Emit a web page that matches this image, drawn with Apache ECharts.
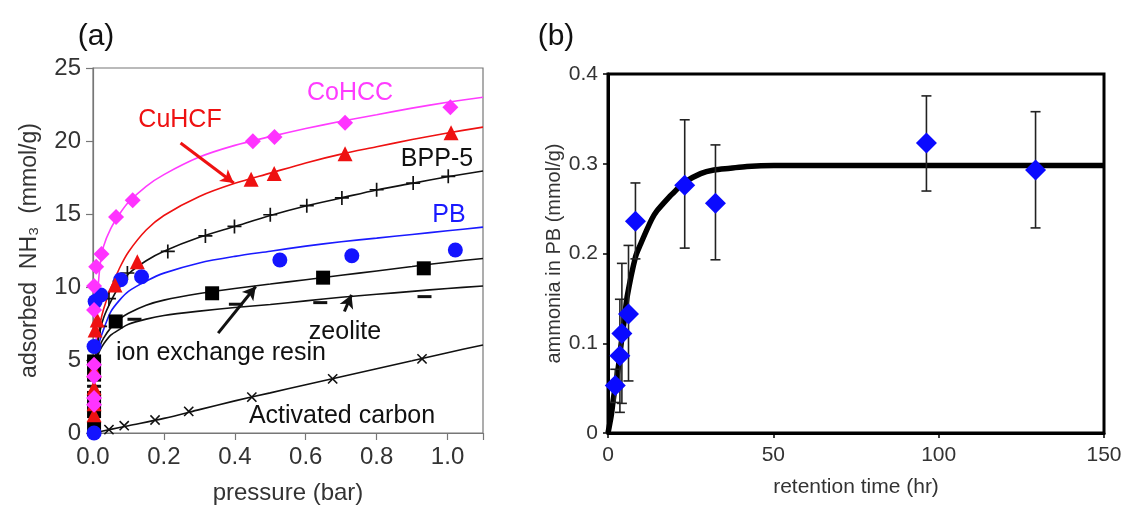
<!DOCTYPE html>
<html><head><meta charset="utf-8">
<script src="https://cdn.jsdelivr.net/npm/echarts@6/dist/echarts.min.js"></script>
<style>html,body{margin:0;padding:0;background:#fff}#c{width:1130px;height:514px}</style>
</head><body><div id="c"></div>
<script>
// ===== Panel (a): NH3 adsorption isotherms =====
const cohccP = [0.003,0.003,0.003,0.003,0.003,0.003,0.009,0.024,0.065,0.112,0.451,0.512,0.711,1.008];
const cohccQ = [1.94,2.4,3.87,4.67,8.43,10.07,11.39,12.26,14.8,15.95,19.98,20.27,21.25,22.32];
const cuhcfP = [0.003,0.003,0.003,0.003,0.006,0.012,0.062,0.125,0.446,0.511,0.711,1.01];
const cuhcfQ = [1.25,2.0,3.1,4.3,7.06,7.74,10.14,11.73,17.38,17.77,19.13,20.57];
const bppP = [0.02,0.045,0.075,0.097,0.211,0.317,0.399,0.5,0.603,0.702,0.8,0.903,1.002];
const bppQ = [7.3,9.2,10.4,10.96,12.44,13.5,14.15,14.95,15.57,16.1,16.66,17.12,17.58];
const pbP = [0.003,0.003,0.006,0.022,0.078,0.137,0.527,0.73,1.022];
const pbQ = [0.0,5.92,9.0,9.45,10.5,10.7,11.85,12.14,12.53];
const resinP = [0.003,0.003,0.003,0.003,0.003,0.064,0.336,0.649,0.933];
const resinQ = [0.3,1.5,2.4,4.0,4.9,7.64,9.57,10.64,11.28];
const zeoP = [0.003,0.003,0.117,0.403,0.641,0.935];
const zeoQ = [3.2,5.0,7.79,8.82,8.93,9.34];
const carbonP = [0.045,0.088,0.175,0.27,0.448,0.676,0.928];
const carbonQ = [0.23,0.5,0.89,1.48,2.46,3.71,5.08];

// fitted curves
const fitP = [0.008,0.012,0.02,0.03,0.05,0.075,0.1,0.15,0.2,0.3,0.4,0.5,0.6,0.7,0.8,0.9,1.0,1.1];
const fitCoHCC = [5.5,9.0,11.5,12.8,14.0,15.0,15.8,16.9,17.7,18.9,19.7,20.3,20.85,21.35,21.8,22.25,22.65,23.0];
const fitCuHCF = [5.3,6.2,7.5,8.5,9.9,11.3,12.4,13.9,14.9,16.2,17.1,17.8,18.5,19.1,19.6,20.1,20.55,20.95];
const fitBPP   = [5.2,6.0,7.0,7.9,9.0,10.1,10.9,11.8,12.45,13.4,14.15,14.9,15.55,16.1,16.65,17.1,17.55,17.95];
const fitPB    = [5.0,5.6,6.4,7.1,8.3,9.1,9.7,10.4,10.95,11.65,12.1,12.45,12.8,13.1,13.35,13.6,13.85,14.1];
const fitResin = [4.9,5.4,6.0,6.5,7.2,7.8,8.2,8.75,9.1,9.55,9.9,10.2,10.5,10.8,11.1,11.4,11.7,11.95];
const fitZeo   = [4.8,5.2,5.7,6.1,6.7,7.1,7.45,7.8,8.05,8.35,8.6,8.8,9.05,9.3,9.5,9.7,9.9,10.07];
const fitCarbonP = [0,0.05,0.1,0.2,0.3,0.4,0.5,0.6,0.7,0.8,0.9,1.0,1.1];
const fitCarbonQ = [0,0.25,0.5,1.0,1.6,2.2,2.75,3.3,3.85,4.4,4.95,5.5,6.03];

// arrows (data coordinates: [from x, from y, to x, to y])
const arrowCuHCF = [0.247,19.86,0.397,17.12];
const arrowResin = [0.353,6.84,0.459,10.03];
const arrowZeo = [0.709,8.32,0.729,9.46];

// ===== Panel (b): ammonia uptake vs retention time =====
const timeHr = [2.2,3.6,4.2,6.2,8.3,23.2,32.5,96.3,129.3];
const ammonia = [0.053,0.086,0.111,0.1326,0.236,0.276,0.256,0.323,0.293];
const errLow = [0.034,0.023,0.033,0.058,0.194,0.206,0.193,0.2696,0.2285];
const errHigh = [0.071,0.149,0.189,0.209,0.2786,0.349,0.321,0.3756,0.358];
const fitT = [0,1,1.7,3,4,5,5.8,8.3,9.8,13.2,14.9,18.75,19.9,23,28,32,37,42,50.2,75,100,125,150];
const fitA = [0,0.02,0.04,0.07,0.1,0.128,0.152,0.196,0.21,0.238,0.248,0.264,0.268,0.279,0.289,0.293,0.295,0.297,0.298,0.298,0.298,0.298,0.298];

const zip = (a,b) => a.map((v,i)=>[v,b[i]]);
const FONT = 'Liberation Sans, Arial, sans-serif';

const plusPath = 'path://M4.4,0H5.6V4.4H10V5.6H5.6V10H4.4V5.6H0V4.4H4.4Z';

function lineSeries(y, color){
  return {type:'line', xAxisIndex:0, yAxisIndex:0, data: zip(fitP, y), showSymbol:false, symbol:'none',
    smooth:0.3, lineStyle:{color:color, width:1.6}, z:2, silent:true};
}
function arrowSeries(a, color){
  return {type:'line', xAxisIndex:0, yAxisIndex:0, data:[], silent:true,
    markLine:{silent:true, symbol:['none','arrow'], symbolSize:[11,13], label:{show:false},
      lineStyle:{color:color, width:3, type:'solid', opacity:1}, emphasis:{disabled:true},
      data:[[{coord:[a[0],a[1]]},{coord:[a[2],a[3]]}]]}};
}
function sc(p, q, symbol, size, color, z, extra){
  return Object.assign({type:'scatter', xAxisIndex:0, yAxisIndex:0, data:zip(p,q), symbol:symbol, symbolSize:size,
    itemStyle:{color:color, opacity:1}, z:z, silent:true}, extra||{});
}

const chart = echarts.init(document.getElementById('c'), null, {renderer:'canvas'});
chart.setOption({
  animation:false,
  backgroundColor:'#fff',
  textStyle:{fontFamily:FONT},
  grid:[
    {left:93, right:647, top:68, bottom:81, show:true, borderColor:'#777', borderWidth:1.2, backgroundColor:'transparent'},
    {left:608, right:26, top:74, bottom:81, show:true, borderColor:'#000', borderWidth:3, backgroundColor:'transparent'}
  ],
  xAxis:[
    {gridIndex:0, type:'value', min:0, max:1.1, interval:0.2,
      name:'pressure (bar)', nameLocation:'middle', nameGap:48,
      nameTextStyle:{fontSize:24, color:'#333', fontFamily:FONT},
      axisLine:{lineStyle:{color:'#777', width:1.2}},
      axisTick:{show:true, length:7, inside:false, lineStyle:{color:'#777', width:1.2}},
      axisLabel:{fontSize:24, color:'#333', margin:12, fontFamily:FONT,
        formatter:v=> (v>1.05?'':v.toFixed(1))},
      splitLine:{show:false}},
    {gridIndex:1, type:'value', min:0, max:150, interval:50,
      name:'retention time (hr)', nameLocation:'middle', nameGap:44,
      nameTextStyle:{fontSize:21, color:'#333', fontFamily:FONT},
      axisLine:{lineStyle:{color:'#000', width:3}},
      axisTick:{show:true, length:5, lineStyle:{color:'#000', width:1.5}},
      axisLabel:{fontSize:21, color:'#333', margin:12, fontFamily:FONT},
      splitLine:{show:false}}
  ],
  yAxis:[
    {gridIndex:0, type:'value', min:0, max:25, interval:5,
      name:'adsorbed  NH\u2083  (mmol/g)', nameLocation:'middle', nameGap:52, nameRotate:90,
      nameTextStyle:{fontSize:23, color:'#333', fontFamily:FONT},
      axisLine:{lineStyle:{color:'#777', width:1.2}},
      axisTick:{show:true, length:7, lineStyle:{color:'#777', width:1.2}},
      axisLabel:{fontSize:24, color:'#333', margin:12, fontFamily:FONT},
      splitLine:{show:false}},
    {gridIndex:1, type:'value', min:0, max:0.4, interval:0.1,
      name:'ammonia in PB (mmol/g)', nameLocation:'middle', nameGap:44, nameRotate:90,
      nameTextStyle:{fontSize:20, color:'#333', fontFamily:FONT},
      axisLine:{lineStyle:{color:'#000', width:3}},
      axisTick:{show:true, length:5, lineStyle:{color:'#000', width:1.5}},
      axisLabel:{fontSize:21, color:'#333', margin:10, fontFamily:FONT,
        formatter:v=> (v===0?'0':v.toFixed(1))},
      splitLine:{show:false}}
  ],
  graphic:[
    {type:'text', x:96, y:37, style:{text:'(a)', font:'30px '+FONT, fill:'#111', textAlign:'center', textVerticalAlign:'middle', verticalAlign:'middle'}},
    {type:'text', x:556, y:37, style:{text:'(b)', font:'30px '+FONT, fill:'#111', textAlign:'center', textVerticalAlign:'middle', verticalAlign:'middle'}},
    {type:'text', x:350, y:93, style:{text:'CoHCC', font:'25px '+FONT, fill:'#ff3cff', textAlign:'center', textVerticalAlign:'middle', verticalAlign:'middle'}},
    {type:'text', x:180, y:120, style:{text:'CuHCF', font:'25px '+FONT, fill:'#ee1111', textAlign:'center', textVerticalAlign:'middle', verticalAlign:'middle'}},
    {type:'text', x:437, y:159, style:{text:'BPP-5', font:'25px '+FONT, fill:'#111', textAlign:'center', textVerticalAlign:'middle', verticalAlign:'middle'}},
    {type:'text', x:449, y:215, style:{text:'PB', font:'25px '+FONT, fill:'#1a1aff', textAlign:'center', textVerticalAlign:'middle', verticalAlign:'middle'}},
    {type:'text', x:345, y:332, style:{text:'zeolite', font:'25px '+FONT, fill:'#111', textAlign:'center', textVerticalAlign:'middle', verticalAlign:'middle'}},
    {type:'text', x:221, y:353, style:{text:'ion exchange resin', font:'25px '+FONT, fill:'#111', textAlign:'center', textVerticalAlign:'middle', verticalAlign:'middle'}},
    {type:'text', x:342, y:416, style:{text:'Activated carbon', font:'25px '+FONT, fill:'#111', textAlign:'center', textVerticalAlign:'middle', verticalAlign:'middle'}}
  ],
  series:[
    lineSeries(fitCoHCC,'#ff3cff'),
    lineSeries(fitCuHCF,'#ee1111'),
    lineSeries(fitBPP,'#111'),
    lineSeries(fitPB,'#1a1aff'),
    lineSeries(fitResin,'#111'),
    lineSeries(fitZeo,'#111'),
    {type:'line', xAxisIndex:0, yAxisIndex:0, data:zip(fitCarbonP,fitCarbonQ), symbol:'none', smooth:0.3,
      lineStyle:{color:'#111', width:1.6}, z:2, silent:true},
    sc(carbonP, carbonQ, plusPath, 13, '#111', 3, {symbolRotate:45}),
    sc(zeoP, zeoQ, 'rect', [14,3], '#111', 3),
    sc(resinP, resinQ, 'rect', 14, '#000', 3),
    sc(bppP, bppQ, plusPath, 14, '#111', 3),
    sc(pbP, pbQ, 'circle', 15, '#1414ff', 3),
    sc(cuhcfP, cuhcfQ, 'triangle', 15, '#ee1111', 4),
    sc(cohccP, cohccQ, 'diamond', 16, '#ff33ff', 4),
    arrowSeries(arrowCuHCF,'#ee1111'),
    arrowSeries(arrowResin,'#111'),
    arrowSeries(arrowZeo,'#111'),
    // panel b
    {type:'line', xAxisIndex:1, yAxisIndex:1, data:zip(fitT,fitA), symbol:'none', smooth:0.3,
      lineStyle:{color:'#000', width:5.5}, z:2, silent:true},
    {type:'custom', xAxisIndex:1, yAxisIndex:1, z:3, silent:true,
      data: timeHr.map((t,i)=>[t, errLow[i], errHigh[i]]),
      renderItem:function(params, api){
        const x = api.value(0), lo = api.value(1), hi = api.value(2);
        const a = api.coord([x, hi]), b = api.coord([x, lo]);
        const w = 5;
        const st = {stroke:'#222', lineWidth:1.6};
        return {type:'group', children:[
          {type:'line', shape:{x1:a[0],y1:a[1],x2:b[0],y2:b[1]}, style:st},
          {type:'line', shape:{x1:a[0]-w,y1:a[1],x2:a[0]+w,y2:a[1]}, style:st},
          {type:'line', shape:{x1:b[0]-w,y1:b[1],x2:b[0]+w,y2:b[1]}, style:st}
        ]};
      }},
    {type:'scatter', xAxisIndex:1, yAxisIndex:1, data:zip(timeHr,ammonia), symbol:'diamond', symbolSize:21,
      itemStyle:{color:'#0a0aff', opacity:1}, z:4, silent:true}
  ]
});
</script></body></html>
